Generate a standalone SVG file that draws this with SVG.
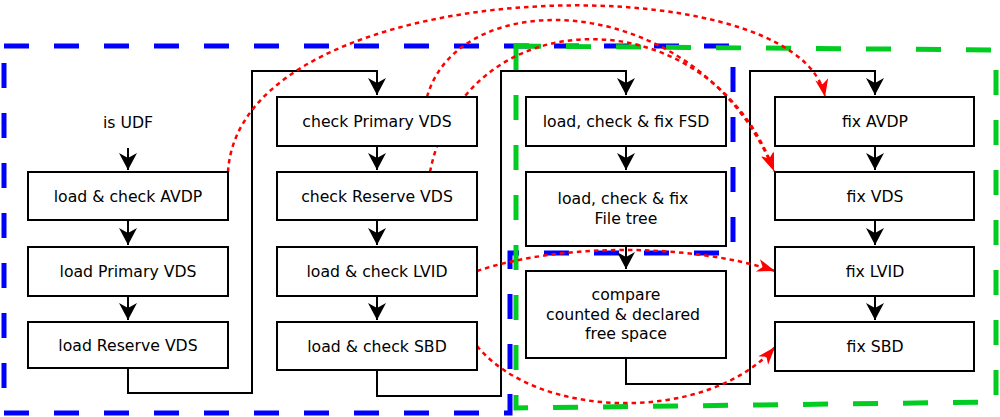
<svg xmlns="http://www.w3.org/2000/svg" width="1000" height="417" viewBox="0 0 1000 417">
<style>
.box{fill:#fff;stroke:#000;stroke-width:2}
.t{font-family:"DejaVu Sans","Liberation Sans",sans-serif;font-size:15.7px;fill:#000;text-anchor:middle}
.blk{fill:none;stroke:#000;stroke-width:2}
.red{fill:none;stroke:#f00;stroke-width:2.5;stroke-dasharray:4.5 4}
.region{fill:none;stroke-width:5;stroke-dasharray:25 25}
</style>
<defs>
<marker id="ab" viewBox="-19 -10 20 20" refX="0" refY="0" markerWidth="20" markerHeight="20" markerUnits="userSpaceOnUse" orient="auto">
<path d="M0,0 L-17,-9 L-12,0 L-17,9 Z" fill="#000"/>
</marker>
<marker id="ar" viewBox="-19 -10 20 20" refX="0" refY="0" markerWidth="20" markerHeight="20" markerUnits="userSpaceOnUse" orient="auto">
<path d="M0,0 L-18,-6.5 L-13,0 L-18,6.5 Z" fill="#f00"/>
</marker>
</defs>
<rect width="1000" height="417" fill="#fff"/>
<g id="regions">
<path class="region" stroke="#0000ff" d="M4,46 H733 V253 H510 V413 H4 Z"/>
<path class="region" stroke="#00cc22" d="M516,46 L996,50 L996,402 L516,408 Z"/>
</g>
<g id="connectors">
<path class="blk" d="M128,148 V170" marker-end="url(#ab)"/>
<path class="blk" d="M128,220 V245" marker-end="url(#ab)"/>
<path class="blk" d="M128,296 V320" marker-end="url(#ab)"/>
<path class="blk" d="M128,368 V393 H252 V71 H377 V95" marker-end="url(#ab)"/>
<path class="blk" d="M377,146 V170" marker-end="url(#ab)"/>
<path class="blk" d="M377,220 V245" marker-end="url(#ab)"/>
<path class="blk" d="M377,296 V320" marker-end="url(#ab)"/>
<path class="blk" d="M377,370 V396 H501 V71 H626 V95" marker-end="url(#ab)"/>
<path class="blk" d="M626,146 V170" marker-end="url(#ab)"/>
<path class="blk" d="M626,246 V269" marker-end="url(#ab)"/>
<path class="blk" d="M626,358 V384 H750 V71 H875 V95" marker-end="url(#ab)"/>
<path class="blk" d="M875,146 V170" marker-end="url(#ab)"/>
<path class="blk" d="M875,220 V245" marker-end="url(#ab)"/>
<path class="blk" d="M875,296 V320" marker-end="url(#ab)"/>
<path class="red" d="M228,172 C240,-30 800,-40 825,97" marker-end="url(#ar)"/>
<path class="red" d="M427,97 C460,-20 700,-10 774,171" marker-end="url(#ar)"/>
<path class="red" d="M430,172 C465,-5 710,-5 774,171" marker-end="url(#ar)"/>
<path class="red" d="M477,271 C560,243 690,243 775,271" marker-end="url(#ar)"/>
<path class="red" d="M477,346 C540,422 710,422 775,347" marker-end="url(#ar)"/>
</g>
<g id="n-isudf"><text class="t" x="128" y="128">is UDF</text></g>
<g id="n-avdp"><rect class="box" x="28" y="172" width="200" height="48"/><text class="t" x="128" y="202">load &amp; check AVDP</text></g>
<g id="n-lpvds"><rect class="box" x="28" y="247" width="200" height="49"/><text class="t" x="128" y="277">load Primary VDS</text></g>
<g id="n-lrvds"><rect class="box" x="28" y="322" width="200" height="46"/><text class="t" x="128" y="351">load Reserve VDS</text></g>
<g id="n-cpvds"><rect class="box" x="277" y="97" width="200" height="49"/><text class="t" x="377" y="127">check Primary VDS</text></g>
<g id="n-crvds"><rect class="box" x="277" y="172" width="200" height="48"/><text class="t" x="377" y="202">check Reserve VDS</text></g>
<g id="n-lvid"><rect class="box" x="277" y="247" width="200" height="49"/><text class="t" x="377" y="277">load &amp; check LVID</text></g>
<g id="n-sbd"><rect class="box" x="277" y="322" width="200" height="48"/><text class="t" x="377" y="352">load &amp; check SBD</text></g>
<g id="n-fsd"><rect class="box" x="526" y="97" width="200" height="49"/><text class="t" x="626" y="127">load, check &amp; fix FSD</text></g>
<g id="n-tree"><rect class="box" x="526" y="172" width="200" height="74"/><text class="t" x="623" y="204">load, check &amp; fix</text><text class="t" x="626" y="224">File tree</text></g>
<g id="n-compare"><rect class="box" x="526" y="271" width="200" height="87"/><text class="t" x="626" y="300">compare</text><text class="t" x="623" y="320">counted &amp; declared</text><text class="t" x="626" y="339">free space</text></g>
<g id="n-favdp"><rect class="box" x="775" y="97" width="199" height="49"/><text class="t" x="875" y="127">fix AVDP</text></g>
<g id="n-fvds"><rect class="box" x="775" y="172" width="199" height="48"/><text class="t" x="875" y="202">fix VDS</text></g>
<g id="n-flvid"><rect class="box" x="775" y="247" width="199" height="49"/><text class="t" x="875" y="277">fix LVID</text></g>
<g id="n-fsbd"><rect class="box" x="775" y="322" width="199" height="49"/><text class="t" x="875" y="352">fix SBD</text></g>
</svg>
